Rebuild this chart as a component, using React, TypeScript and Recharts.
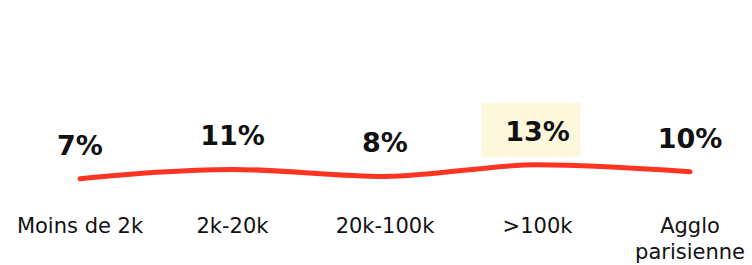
import React from 'react';
import { LineChart, Line, XAxis, YAxis, LabelList } from 'recharts';

const categories = ['Moins de 2k', '2k-20k', '20k-100k', '>100k', 'Agglo parisienne'];
const values = [7, 11, 8, 13, 10];
const highlighted = '>100k';

const data = categories.map((name, i) => ({ name, value: values[i] }));

const LINE_COLOR = '#fb3522';
const FONT = '"DejaVu Sans", sans-serif';

function CategoryTick(props: any) {
  const { x, y, payload } = props;
  const words: string[] = payload.value === 'Agglo parisienne' ? ['Agglo', 'parisienne'] : [payload.value];
  return (
    <text x={x} y={y} textAnchor="middle" fontFamily={FONT} fontSize={21} fill="#111">
      {words.map((w, i) => (
        <tspan key={i} x={x} dy={i === 0 ? 30 : 26}>{w}</tspan>
      ))}
    </text>
  );
}

function ValueLabel(props: any) {
  const { x, y, value, index } = props;
  const isHi = categories[index] === highlighted;
  return (
    <g>
      {isHi && <rect x={x - 56} y={y - 62} width={99} height={54} fill="#fdf8dc" />}
      <text x={x} y={y - 24} textAnchor="middle" fontFamily={FONT} fontWeight={700} fontSize={27} fill="#111">
        {value}%
      </text>
    </g>
  );
}

export default function App() {
  return (
    <div style={{ width: 752, height: 265 }}>
      <style>{'body{margin:0}'}</style>
      <LineChart width={752} height={265} data={data} margin={{ top: 9, right: 0, bottom: 40, left: 0 }}>
        <XAxis
          dataKey="name"
          axisLine={false}
          tickLine={false}
          interval={0}
          height={30}
          padding={{ left: 80, right: 62 }}
          tick={<CategoryTick />}
        />
        <YAxis hide domain={[0, 80]} />
        <Line
          type="monotone"
          dataKey="value"
          stroke={LINE_COLOR}
          strokeWidth={5}
          strokeLinecap="round"
          dot={false}
          activeDot={false}
          isAnimationActive={false}
        >
          <LabelList dataKey="value" content={<ValueLabel />} />
        </Line>
      </LineChart>
    </div>
  );
}
